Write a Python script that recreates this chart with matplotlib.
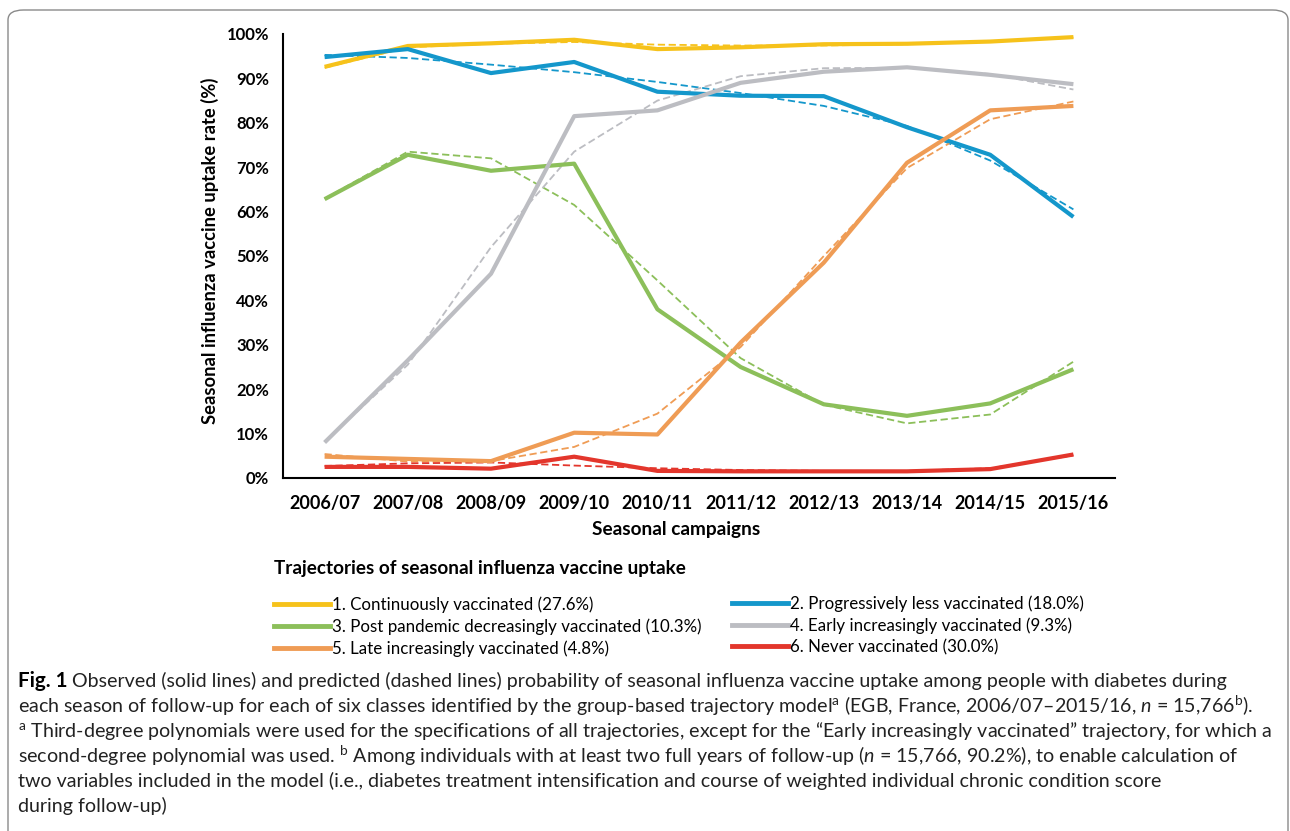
import matplotlib
matplotlib.use('Agg')
import matplotlib.pyplot as plt
from matplotlib.lines import Line2D
from matplotlib.patches import FancyBboxPatch
from matplotlib.ticker import PercentFormatter

# ---- data (% uptake) ----
seasons = ['2006/07', '2007/08', '2008/09', '2009/10', '2010/11',
           '2011/12', '2012/13', '2013/14', '2014/15', '2015/16']

labels = ['1. Continuously vaccinated (27.6%)',
          '2. Progressively less vaccinated (18.0%)',
          '3. Post pandemic decreasingly vaccinated (10.3%)',
          '4. Early increasingly vaccinated (9.3%)',
          '5. Late increasingly vaccinated (4.8%)',
          '6. Never vaccinated (30.0%)']
colors = ['#F6C21B', '#1497CB', '#8CBF5A', '#BCBDC2', '#EF9C55', '#E3362C']

obs_continuous = [92.6, 97.3, 97.9, 98.7, 96.6, 97.0, 97.7, 97.8, 98.3, 99.3]
obs_less = [94.8, 96.6, 91.2, 93.7, 87.0, 86.1, 86.0, 79.0, 72.8, 58.8]
obs_postpandemic = [62.8, 72.8, 69.2, 70.8, 38.0, 25.0, 16.6, 14.0, 16.8, 24.5]
obs_early = [8.0, 26.5, 46.0, 81.5, 82.8, 89.0, 91.5, 92.5, 90.8, 88.7]
obs_late = [4.8, 4.3, 3.8, 10.2, 9.8, 30.5, 48.5, 71.0, 82.8, 83.8]
obs_never = [2.5, 2.5, 2.1, 4.8, 1.6, 1.5, 1.5, 1.5, 2.0, 5.3]

pred_continuous = [92.4, 97.0, 97.8, 98.2, 97.6, 97.4, 97.4, 97.7, 98.3, 99.2]
pred_less = [95.3, 94.6, 93.1, 91.4, 89.2, 86.7, 83.8, 79.3, 71.5, 60.5]
pred_postpandemic = [62.9, 73.5, 72.0, 61.5, 44.5, 27.0, 16.5, 12.3, 14.3, 26.2]
pred_early = [8.2, 25.5, 52.0, 73.5, 85.0, 90.5, 92.3, 92.4, 91.0, 87.5]
pred_late = [5.4, 3.7, 3.8, 7.0, 14.5, 29.5, 50.0, 69.8, 80.8, 84.8]
pred_never = [2.7, 3.3, 3.5, 2.8, 2.2, 1.8, 1.6, 1.6, 2.2, 5.1]

observed = [obs_continuous, obs_less, obs_postpandemic, obs_early, obs_late, obs_never]
predicted = [pred_continuous, pred_less, pred_postpandemic, pred_early, pred_late, pred_never]

caption_head = 'Fig. 1'
caption_lines = [
    r'Observed (solid lines) and predicted (dashed lines) probability of seasonal influenza vaccine uptake among people with diabetes during',
    r'each season of follow-up for each of six classes identified by the group-based trajectory model$^{\mathrm{a}}$ (EGB, France, 2006/07–2015/16, $n$ = 15,766$^{\mathrm{b}}$).',
    r'$^{\mathrm{a}}$ Third-degree polynomials were used for the specifications of all trajectories, except for the “Early increasingly vaccinated” trajectory, for which a',
    r'second-degree polynomial was used. $^{\mathrm{b}}$ Among individuals with at least two full years of follow-up ($n$ = 15,766, 90.2%), to enable calculation of',
    r'two variables included in the model (i.e., diabetes treatment intensification and course of weighted individual chronic condition score',
    r'during follow-up)',
]

# ---- fonts ----
FONT = ['Lato', 'DejaVu Sans']
plt.rcParams['font.family'] = FONT
plt.rcParams['mathtext.fontset'] = 'custom'
plt.rcParams['mathtext.rm'] = 'Lato'
plt.rcParams['mathtext.it'] = 'Lato:italic'

W, H = 1290, 831
fig = plt.figure(figsize=(W / 100, H / 100), dpi=100)
renderer = fig.canvas.get_renderer()


def px_width(s, size, weight='normal'):
    t = fig.text(0, 0, s, fontsize=size, fontweight=weight)
    w = t.get_window_extent(renderer).width
    t.remove()
    return w


def fit_size(s, target, weight='normal', base=12.0):
    return base * target / px_width(s, base, weight)


# rounded frame around the figure panel
frame = FancyBboxPatch((8 / W, -0.05), (1288 - 8) / W, 1.05 - 10 / H,
                       boxstyle='round,pad=0,rounding_size=0.012',
                       transform=fig.transFigure, fill=False,
                       edgecolor='#8a8a8a', linewidth=1.0)
fig.patches.append(frame)

ax = fig.add_axes([283 / W, 1 - 478 / H, (1115 - 283) / W, (478 - 34) / H])
x = list(range(len(seasons)))

# dashed predictions first, then observed on top
for pred, col in zip(predicted, colors):
    ax.plot(x, pred, color=col, linestyle=(0, (4, 2)), linewidth=1.3)
for obs, col in zip(observed, colors):
    ax.plot(x, obs, color=col, linewidth=3.0, solid_capstyle='butt')

ax.set_xlim(-0.5, len(seasons) - 0.5)
ax.set_ylim(0, 100)
ax.set_yticks(range(0, 101, 10))
ax.yaxis.set_major_formatter(PercentFormatter(decimals=0))
ax.set_xticks(x)
ax.set_xticklabels(seasons)
ax.tick_params(axis='y', length=0, labelsize=12, pad=10)
ax.tick_params(axis='x', length=0, labelsize=13, pad=12)
for lab in ax.get_xticklabels() + ax.get_yticklabels():
    lab.set_fontweight('bold')
ax.spines['top'].set_visible(False)
ax.spines['right'].set_visible(False)
ax.spines['left'].set_linewidth(1.5)
ax.spines['bottom'].set_linewidth(1.5)

ylab = 'Seasonal influenza vaccine uptake rate (%)'
fig.text(210 / W, 1 - 251 / H, ylab, rotation=90, ha='center', va='center',
         fontweight='bold', fontsize=fit_size(ylab, 342, 'bold'))
xlab = 'Seasonal campaigns'
fig.text(676 / W, 1 - 529 / H, xlab, ha='center', va='center',
         fontweight='bold', fontsize=fit_size(xlab, 167, 'bold'))

# legend: two columns placed where the reference has them
handles = [Line2D([], [], color=c, linewidth=3.5) for c in colors]
leg_size = fit_size(labels[2], 690 - 322)
title = 'Trajectories of seasonal influenza vaccine uptake'
leg_kw = dict(loc='upper left', frameon=False, fontsize=leg_size,
              handlelength=3.3, handletextpad=0.15, labelspacing=0.32,
              borderaxespad=0, borderpad=0)
leg1 = fig.legend([handles[i] for i in (0, 2, 4)], [labels[i] for i in (0, 2, 4)],
                  bbox_to_anchor=(274 / W, 1 - 560 / H), title=title,
                  title_fontproperties={'weight': 'bold',
                                        'size': fit_size(title, 408, 'bold')},
                  alignment='left', **leg_kw)
leg1._legend_box.sep = 14
fig.legend([handles[i] for i in (1, 3, 5)], [labels[i] for i in (1, 3, 5)],
           bbox_to_anchor=(732 / W, 1 - 595 / H), **leg_kw)

# caption
cap_y = [681, 706, 731, 756, 781, 806]
cap_size = fit_size(caption_lines[1], 1255 - 18)
fig.text(18 / W, 1 - cap_y[0] / H, caption_head, fontsize=cap_size * 1.05,
         fontweight='bold', va='center', ha='left')
head_w = px_width(caption_head + ' ', cap_size * 1.05, 'bold')
for i, (line, yy) in enumerate(zip(caption_lines, cap_y)):
    x0 = (18 + head_w) / W if i == 0 else 18 / W
    fig.text(x0, 1 - yy / H, line, fontsize=cap_size,
             va='center', ha='left', color='#222222')

fig.savefig('out.png', dpi=100)
